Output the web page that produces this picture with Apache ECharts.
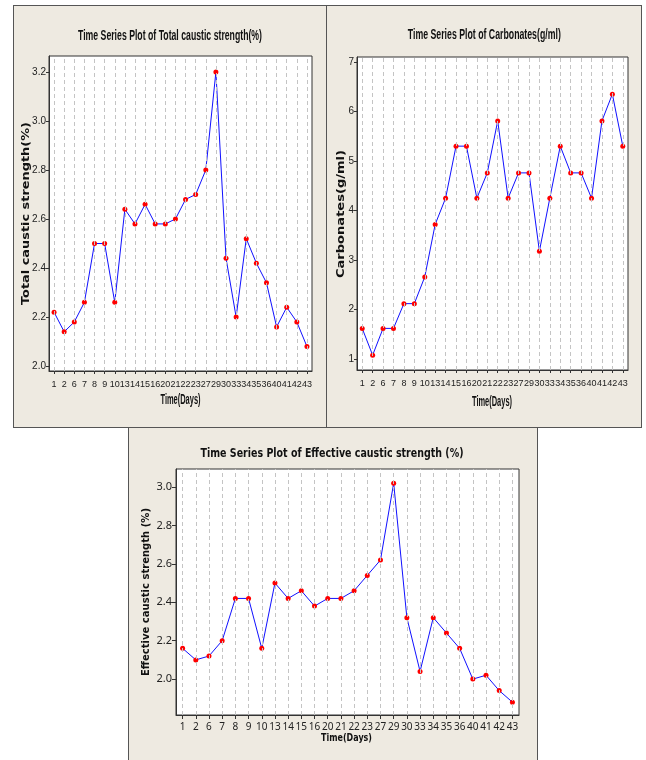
<!DOCTYPE html>
<html>
<head>
<meta charset="utf-8">
<script src="https://cdn.jsdelivr.net/npm/echarts@6/dist/echarts.min.js"></script>
<style>
html,body{margin:0;padding:0;background:#fff;}
#wrap{position:relative;width:646px;height:760px;overflow:hidden;}
.panel{position:absolute;background:#EEEAE1;outline:1px solid #555;outline-offset:-1px;}
</style>
</head>
<body>
<div id="wrap">
  <div id="p1" class="panel" style="left:13px;top:5px;width:314px;height:423px;"></div>
  <div id="p2" class="panel" style="left:326px;top:5px;width:316px;height:423px;"></div>
  <div id="p3" class="panel" style="left:128px;top:427px;width:410px;height:340px;"></div>
</div>
<script>
// ---- data ----
const days = ['1','2','6','7','8','9','10','13','14','15','16','20','21','22','23','27','29','30','33','34','35','36','40','41','42','43'];
const totalCaustic = [2.22,2.14,2.18,2.26,2.50,2.50,2.26,2.64,2.58,2.66,2.58,2.58,2.60,2.68,2.70,2.80,3.20,2.44,2.20,2.52,2.42,2.34,2.16,2.24,2.18,2.08];
const carbonates = [1.62,1.08,1.62,1.62,2.12,2.12,2.66,3.72,4.25,5.30,5.30,4.25,4.76,5.81,4.25,4.76,4.76,3.18,4.25,5.30,4.76,4.76,4.25,5.81,6.35,5.30];
const effectiveCaustic = [2.16,2.10,2.12,2.20,2.42,2.42,2.16,2.50,2.42,2.46,2.38,2.42,2.42,2.46,2.54,2.62,3.02,2.32,2.04,2.32,2.24,2.16,2.00,2.02,1.94,1.88];
const totalTicks = [2.0,2.2,2.4,2.6,2.8,3.0,3.2];
const carbTicks = [1,2,3,4,5,6,7];
const effTicks = [2.0,2.2,2.4,2.6,2.8,3.0];

const titles = ['Time Series Plot of Total caustic strength(%)','Time Series Plot of Carbonates(g/ml)','Time Series Plot of Effective caustic strength (%)'];
const yNames = ['Total caustic strength(%)','Carbonates(g/ml)','Effective caustic strength (%)'];
const xName = 'Time(Days)';

const mctx = document.createElement('canvas').getContext('2d');
function fit(text, font, w){ mctx.font = font; return w / mctx.measureText(text).width; }
function txt(text, x, y, font, w, rot){
  return {type:'text', x:x, y:y, rotation: rot||0, scaleX: fit(text,font,w), silent:true, z:10,
    style:{text:text, font:font, fill:'#111', align:'center', verticalAlign:'middle'}};
}

function build(id, c){
  const chart = echarts.init(document.getElementById(id), null, {renderer:'canvas'});
  chart.setOption({
    animation:false,
    grid:{left:c.grid[0], top:c.grid[1], width:c.grid[2], height:c.grid[3], show:true,
      backgroundColor:'#fff', borderColor:'#333', borderWidth:1, containLabel:false},
    xAxis:{type:'category', data:days, boundaryGap:true,
      axisLine:{show:true, lineStyle:{color:'#333', width:1}},
      axisTick:{show:true, alignWithLabel:true, interval:0, length:c.tickLen, lineStyle:{color:'#333'}},
      axisLabel:{interval:0, hideOverlap:false, margin:c.xMargin, color:'#222', fontFamily:c.tickFont, fontSize:c.xFontSize},
      splitLine:{show:false}},
    yAxis:{type:'value', min:c.min, max:c.max,
      axisLine:{show:true, lineStyle:{color:'#333', width:1}},
      axisTick:{show:true, length:c.tickLen, customValues:c.ticks, lineStyle:{color:'#333'}},
      axisLabel:{customValues:c.ticks, margin:c.yMargin, color:'#222', fontFamily:c.tickFont, fontSize:c.yFontSize,
        formatter:function(v){ return c.dec ? v.toFixed(1) : String(Math.round(v)); }},
      splitLine:{show:false}},
    graphic:c.texts,
    series:[
      {type:'line', data:c.data, silent:true, z:1, symbol:'none', lineStyle:{opacity:0},
        markLine:{silent:true, symbol:['none','none'], label:{show:false},
          lineStyle:{type:[4,3], color:'#c4c4c4', width:1},
          emphasis:{disabled:true},
          data:days.map(function(d,i){ return {xAxis:i}; })}},
      {type:'line', data:c.data, z:3, symbol:'circle', symbolSize:5,
        itemStyle:{color:'#ff0000'}, lineStyle:{color:'#1010ff', width:1}}
    ]
  });
}

const narrowBold = "bold 15px 'Liberation Sans', sans-serif";
const wideBold = "bold 10px 'DejaVu Sans', sans-serif";
const smallFont = "'Liberation Sans', sans-serif";

build('p1', {grid:[36,51,263,315], min:1.98, max:3.265, ticks:totalTicks, dec:true, data:totalCaustic,
  tickLen:3, xMargin:9, yMargin:3, tickFont:smallFont, xFontSize:9, yFontSize:10,
  texts:[txt(titles[0],157,30.5,narrowBold,184), txt(yNames[0],13,208.5,wideBold,183,Math.PI/2),
         txt(xName,167.5,395,"bold 14px 'Liberation Sans', sans-serif",40)]});

build('p2', {grid:[31,52,271,313], min:0.78, max:7.1, ticks:carbTicks, dec:false, data:carbonates,
  tickLen:3, xMargin:9, yMargin:3, tickFont:smallFont, xFontSize:9, yFontSize:10,
  texts:[txt(titles[1],158.3,30,narrowBold,153), txt(yNames[1],15,209,wideBold,128,Math.PI/2),
         txt(xName,166,396.7,"bold 14px 'Liberation Sans', sans-serif",40)]});

build('p3', {grid:[48,42,343,246], min:1.813, max:3.094, ticks:effTicks, dec:true, data:effectiveCaustic,
  tickLen:4, xMargin:7, yMargin:4, tickFont:"'Noto Sans', sans-serif", xFontSize:10, yFontSize:11,
  texts:[txt(titles[2],204,27,"bold 13px 'DejaVu Sans', sans-serif",263), txt(yNames[2],18,165,wideBold,168,Math.PI/2),
         txt(xName,218.5,311,"bold 11px 'DejaVu Sans', sans-serif",51)]});
</script>
</body>
</html>
